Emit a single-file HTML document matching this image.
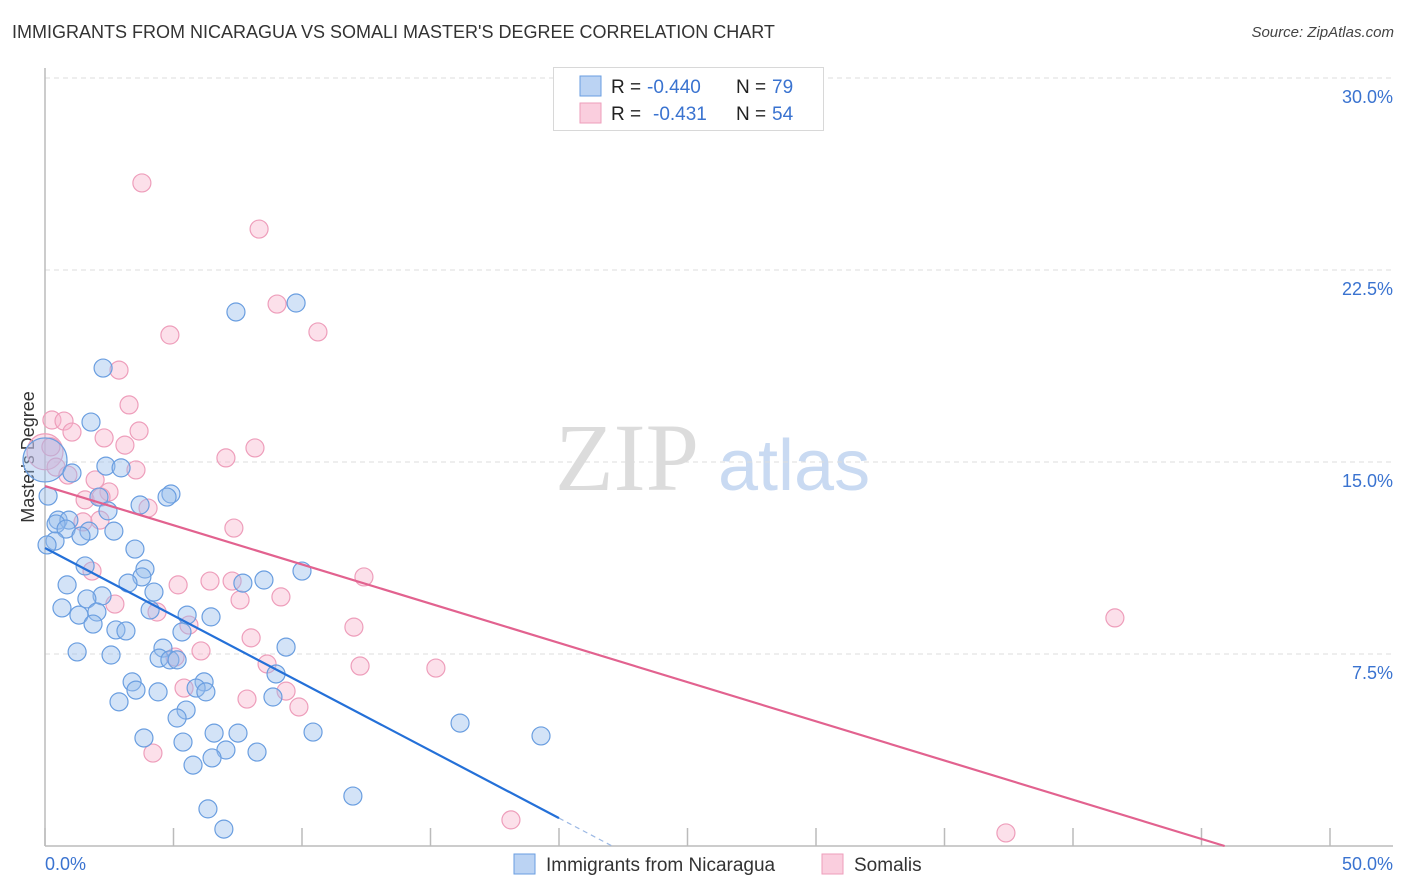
<!DOCTYPE html>
<html><head><meta charset="utf-8">
<style>
body{margin:0;background:#fff;font-family:"Liberation Sans",sans-serif;}
#wrap{position:relative;width:1406px;height:892px;overflow:hidden;}
.t{position:absolute;white-space:nowrap;}
</style></head>
<body>
<div id="wrap">
<div class="t" style="left:12px;top:22px;font-size:18px;color:#333;">IMMIGRANTS FROM NICARAGUA VS SOMALI MASTER'S DEGREE CORRELATION CHART</div>
<div class="t" style="right:12px;top:24px;font-size:15px;color:#444;font-style:italic;">Source: ZipAtlas.com</div>
<svg id="chart" width="1406" height="892" style="position:absolute;left:0;top:0"></svg>
</div>
<script>
const xTicks=[0,5,10,15,20,25,30,35,40,45,50];
const yTicks=[7.5,15,22.5,30];
const yTickLabels=["7.5%","15.0%","22.5%","30.0%"];
const blueX=[2.26,1.79,2.37,2.96,1.05,2.10,4.90,4.75,3.70,2.45,0.51,0.93,0.43,0.82,1.71,2.68,1.40,0.39,3.50,1.56,3.89,3.77,3.23,0.86,4.24,2.22,1.63,0.66,2.02,4.09,1.32,5.53,6.46,1.87,2.76,3.15,5.33,8.52,7.70,10.0,1.25,2.57,4.59,4.44,4.86,5.14,9.38,8.99,6.19,3.39,3.54,4.40,5.88,6.26,8.87,2.88,5.49,5.14,6.58,7.51,10.43,16.15,19.30,3.85,5.37,7.04,8.25,6.50,5.76,6.34,6.96,11.98,7.43,9.77,0.12,0.08];
const blueY=[18.67,16.56,14.84,14.77,14.57,13.63,13.75,13.63,13.32,13.09,12.73,12.73,12.58,12.38,12.30,12.30,12.11,11.91,11.60,10.94,10.82,10.51,10.27,10.20,9.92,9.77,9.65,9.30,9.14,9.22,9.02,9.02,8.95,8.67,8.44,8.40,8.36,10.39,10.27,10.74,7.58,7.46,7.73,7.34,7.27,7.27,7.77,6.72,6.41,6.41,6.09,6.02,6.17,6.02,5.82,5.63,5.31,5.00,4.41,4.41,4.45,4.80,4.30,4.22,4.06,3.75,3.67,3.44,3.16,1.45,0.66,1.95,20.86,21.21,13.67,11.76];
const pinkX=[3.77,8.33,9.03,10.62,4.86,2.88,3.27,0.27,0.74,1.05,3.66,2.30,3.11,8.17,7.04,0.23,3.54,0.43,0.89,1.95,2.49,1.56,2.18,4.01,1.48,2.14,7.35,12.41,1.83,5.18,6.42,7.28,7.59,9.18,2.72,4.36,5.60,12.02,41.63,8.02,6.07,5.06,8.64,12.26,15.21,5.41,7.86,9.38,9.88,4.20,18.13,37.39];
const pinkY=[25.90,24.10,21.17,20.08,19.96,18.59,17.23,16.64,16.60,16.17,16.21,15.94,15.66,15.55,15.16,15.59,14.69,14.80,14.49,14.30,13.83,13.52,13.63,13.20,12.66,12.73,12.42,10.51,10.74,10.20,10.35,10.35,9.61,9.73,9.45,9.14,8.63,8.55,8.91,8.13,7.62,7.38,7.11,7.03,6.95,6.17,5.74,6.05,5.43,3.63,1.02,0.51];
const bigBlue=[0,15.08];
const bigPink=[0,15.4];
const blueLine=[0,11.64,20,1.09];
const pinkLine=[0,14.06,45.9,0];

const X0=45,X1=1330,Y0=846,Y30=78;
function sx(v){return X0+(X1-X0)*v/50;}
function sy(v){return Y0-(Y0-Y30)*v/30;}
const svg=document.getElementById('chart');
const NS='http://www.w3.org/2000/svg';
function mk(tag,attrs){const e=document.createElementNS(NS,tag);for(const k in attrs)e.setAttribute(k,attrs[k]);svg.appendChild(e);return e;}

// watermark
let w=mk('text',{x:555,y:490,'font-size':96,'font-family':'Liberation Serif, serif',fill:'#dcdcdc'});
w.textContent='ZIP';


let w2=mk('text',{x:718,y:490,'font-size':72,'font-family':'Liberation Sans, sans-serif',fill:'#c9daf2'});
w2.textContent='atlas';



yTicks.forEach((t,i)=>{
  let g=mk('line',{x1:X0,x2:1393,y1:sy(t),y2:sy(t),stroke:'#dddddd','stroke-dasharray':'5,4','stroke-width':1});
  
  
  let l=mk('text',{x:1393,y:sy(t)+25,'text-anchor':'end','font-size':18,fill:'#3a73d0'});
  l.textContent=yTickLabels[i];
  
  
});
let ax=mk('line',{x1:X0,x2:X0,y1:68,y2:Y0,stroke:'#bbb','stroke-width':1.5});


let bx=mk('line',{x1:X0,x2:1393,y1:Y0,y2:Y0,stroke:'#bbb','stroke-width':1.5});


xTicks.forEach(t=>{
  let tk=mk('line',{x1:sx(t),x2:sx(t),y1:828,y2:Y0,stroke:'#bbb','stroke-width':1.5});
  
  
});
let xl0=mk('text',{x:45,y:870,'font-size':18,fill:'#3a73d0'});xl0.textContent='0.0%';


let xl1=mk('text',{x:1393,y:870,'text-anchor':'end','font-size':18,fill:'#3a73d0'});xl1.textContent='50.0%';


let yt=mk('text',{x:34,y:457,'font-size':18,fill:'#333','text-anchor':'middle',transform:'rotate(-90 34 457)'});
yt.textContent="Master's Degree";



function dot(x,y,r,blue,name){
  let c=mk('circle',{cx:sx(x),cy:sy(y),r:r,fill:blue?'rgba(150,188,236,0.42)':'rgba(247,180,204,0.42)',stroke:blue?'#6a9ee0':'#ee9ebb','stroke-width':1.2});
  
  
}
dot(bigPink[0],bigPink[1],18,false,'somalis-point');
for(let i=0;i<pinkX.length;i++) dot(pinkX[i],pinkY[i],9,false,'somalis-point');
dot(bigBlue[0],bigBlue[1],22,true,'nicaragua-point');
for(let i=0;i<blueX.length;i++) dot(blueX[i],blueY[i],9,true,'nicaragua-point');

let bl=mk('line',{x1:sx(blueLine[0]),y1:sy(blueLine[1]),x2:sx(blueLine[2]),y2:sy(blueLine[3]),stroke:'#2470d8','stroke-width':2.2});


const slope=(blueLine[3]-blueLine[1])/(blueLine[2]-blueLine[0]);
const xEnd=blueLine[0]-blueLine[1]/slope;
let bd=mk('line',{x1:sx(blueLine[2]),y1:sy(blueLine[3]),x2:sx(xEnd),y2:sy(0),stroke:'#9bb8e4','stroke-width':1.2,'stroke-dasharray':'5,4'});


let pl=mk('line',{x1:sx(pinkLine[0]),y1:sy(pinkLine[1]),x2:sx(pinkLine[2]),y2:sy(pinkLine[3]),stroke:'#e2628f','stroke-width':2.2});



// stats legend
let lb=mk('rect',{x:553.5,y:67.5,width:270,height:63,fill:'#fff',stroke:'#d8d8d8'});


[['rgba(150,188,236,0.65)','#6a9ee0',76,'-0.440','79',647],['rgba(247,180,204,0.65)','#ee9ebb',103,'-0.431','54',653]].forEach((r,i)=>{
  let s=mk('rect',{x:580,y:r[2],width:21,height:20,fill:r[0],stroke:r[1]});
  
  
  let t1=mk('text',{x:611,y:r[2]+17,'font-size':19,fill:'#222'});t1.textContent='R =';
  
  
  let t2=mk('text',{x:r[5],y:r[2]+17,'font-size':19,fill:'#3a73d0'});t2.textContent=r[3];
  
  
  let t3=mk('text',{x:736,y:r[2]+17,'font-size':19,fill:'#222'});t3.textContent='N =';
  
  
  let t4=mk('text',{x:772,y:r[2]+17,'font-size':19,fill:'#3a73d0'});t4.textContent=r[4];
  
  
});
// bottom legend
[[514,'rgba(150,188,236,0.65)','#6a9ee0','Immigrants from Nicaragua','legend-nicaragua'],[822,'rgba(247,180,204,0.65)','#ee9ebb','Somalis','legend-somalis']].forEach(r=>{
  let s=mk('rect',{x:r[0],y:854,width:21,height:20,fill:r[1],stroke:r[2]});
  
  
  let t=mk('text',{x:r[0]+32,y:871,'font-size':19,fill:'#333'});t.textContent=r[3];
  
  
});
</script>
</body></html>
